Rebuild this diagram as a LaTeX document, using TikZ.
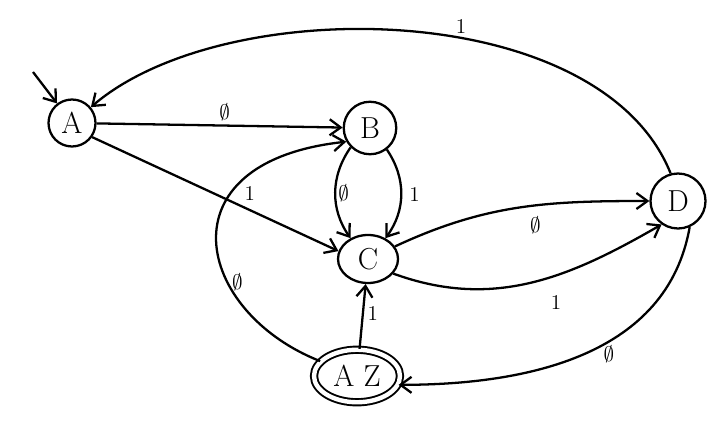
\documentclass[tikz,border=0pt]{standalone}
\usepackage{amsmath,amssymb}
\usetikzlibrary{arrows.meta,positioning,shapes.geometric}
\tikzset{
statenode/.style={draw, circle, line width=1.3pt, minimum size=1.05cm, inner sep=1pt, font=\LARGE},
acceptnode/.style={draw, ellipse, double, double distance=2.5pt, line width=1.1pt, minimum width=1.72cm, minimum height=1.05cm, inner sep=1pt, font=\LARGE},
transarrow/.style={-{Straight Barb[length=2.2mm, width=3.2mm]}, line width=1.3pt},
edgelabel/.style={font=\large, inner sep=2pt}
}

\begin{document}
\begin{tikzpicture}
\useasboundingbox (0,0) rectangle (14.3,8.54);
\node[statenode, minimum size=0.94cm] (A) at (1.44,6.08) {A};
\node[statenode] (B) at (7.40,5.98) {B};
\node[statenode, ellipse, minimum width=1.2cm, minimum height=0.96cm] (C) at (7.36,3.36) {C};
\node[statenode, minimum size=1.1cm] (D) at (13.56,4.52) {D};
\node[acceptnode] (AZ) at (7.14,1.02) {A Z};
\coordinate (start) at (0.66,7.10);

\draw[transarrow] (start) -- (A);
\draw[transarrow] (A) -- node[edgelabel, above, pos=0.52] {$\emptyset$} (B);
\draw[transarrow] (A.-35) -- node[edgelabel, above right, pos=0.6] {1} (C.165);
\draw[transarrow] (B.225) to[bend right=35] node[edgelabel, right, inner sep=1pt] {$\emptyset$} (C.130);
\draw[transarrow] (B.-52) to[bend left=35] node[edgelabel, right, inner sep=4pt] {1} (C.50);
\draw[transarrow] (C.25) to[out=25, in=180] node[edgelabel, below=4pt, pos=0.57] {$\emptyset$} (D.180);
\draw[transarrow] (C.-30) to[out=-20, in=210] node[edgelabel, below=9pt, pos=0.6] {1} (D.235);
\draw[transarrow] (AZ) -- node[edgelabel, right, pos=0.55] {1} (C);
\draw[transarrow] (AZ.158) .. controls (3.9,2.3) and (3.2,5.3) .. node[edgelabel, right, pos=0.35] {$\emptyset$} (B.210);
\draw[transarrow] (D.-66) to[out=-100, in=0] node[edgelabel, below, pos=0.42] {$\emptyset$} (AZ.-12);
\draw[transarrow] (D.105) .. controls (12.0,8.6) and (4.5,8.7) .. node[edgelabel, above, pos=0.42] {1} (A.40);
\end{tikzpicture}
\end{document}
